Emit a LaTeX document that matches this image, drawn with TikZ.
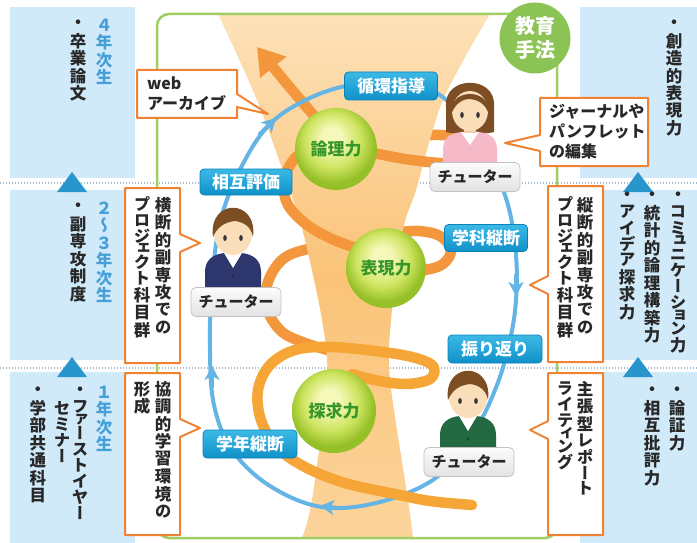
\documentclass[tikz,border=0pt]{standalone}
\usepackage{fontspec}
\usetikzlibrary{arrows.meta}

\newfontfamily\jp{Noto Sans CJK JP}
\newfontfamily\jpv{Noto Sans CJK JP}[RawFeature=+vert]

% vertical (tate) setting: one upright glyph per slot, kana set a little tighter
\ExplSyntaxOn
\dim_new:N \l_tate_pitch_dim
\NewDocumentCommand \tate { m }
  {
    \vbox:n
      {
        \offinterlineskip
        \tl_map_inline:nn {#1}
          {
            \tl_if_in:nnTF { ァィゥェォャュョッ } {##1}
              { \dim_set:Nn \l_tate_pitch_dim { 0.62em } }
              {
                \int_compare:nTF { "30A0 < `##1 < "3100 }
                  { \dim_set:Nn \l_tate_pitch_dim { 0.97em } }
                  { \dim_set:Nn \l_tate_pitch_dim { 1.06em } }
              }
            \hbox_to_wd:nn { 1em }
              { \hss \vbox_to_ht:nn { \l_tate_pitch_dim } { \vss \hbox:n {##1} \vss } \hss }
          }
      }
  }
\ExplSyntaxOff

\definecolor{panelblue}{RGB}{208,234,250}
\definecolor{yeartext}{RGB}{70,160,215}
\definecolor{tri}{RGB}{40,150,205}
\definecolor{dotline}{RGB}{165,185,205}
\definecolor{framegreen}{RGB}{160,205,100}
\definecolor{methodgreen}{RGB}{140,195,85}
\definecolor{loopblue}{RGB}{100,180,230}
\definecolor{boxtop}{RGB}{60,185,230}
\definecolor{boxbot}{RGB}{15,145,200}
\definecolor{boxline}{RGB}{10,130,185}
\definecolor{spiral}{RGB}{243,150,60}
\definecolor{spirallow}{RGB}{246,165,55}
\definecolor{calloutline}{RGB}{240,130,50}
\definecolor{funnelA}{RGB}{253,226,185}
\definecolor{funnelB}{RGB}{250,195,120}
\definecolor{funnelC}{RGB}{252,212,155}
\definecolor{ballA}{RGB}{245,248,185}
\definecolor{ballB}{RGB}{205,228,95}
\definecolor{ballC}{RGB}{150,192,40}
\definecolor{balltext}{RGB}{55,150,40}
\definecolor{labtop}{RGB}{252,252,252}
\definecolor{labbot}{RGB}{226,226,226}
\definecolor{labline}{RGB}{195,195,195}
\definecolor{skin}{RGB}{250,222,185}
\definecolor{hair}{RGB}{125,78,35}
\definecolor{pinkbody}{RGB}{245,185,200}
\definecolor{navy}{RGB}{45,55,110}
\definecolor{suitgreen}{RGB}{35,105,65}
\definecolor{inktext}{RGB}{40,40,40}

\pgfdeclareradialshading{greenball}{\pgfpoint{-3bp}{8bp}}{%
  color(0bp)=(ballA); color(6bp)=(ballA); color(17bp)=(ballB);
  color(25bp)=(ballC); color(50bp)=(ballC)}

\tikzset{
  yearpanel/.style={fill=panelblue},
  steptri/.style={fill=tri},
  sepline/.style={draw=dotline, line width=1.3pt, dash pattern=on 1.3pt off 1.7pt},
  vcol/.style={anchor=north, inner sep=0pt, text=inktext,
    font=\jpv\bfseries\fontsize{16.5}{16.5}\selectfont},
  vyear/.style={vcol, text=yeartext},
  callbox/.style={draw=calloutline, line width=2pt, fill=white, line join=round},
  calltext/.style={inner sep=0pt, align=left, text=inktext,
    font=\jp\bfseries\fontsize{16}{20}\selectfont},
  methodbox/.style={rounded corners=4pt, top color=boxtop, bottom color=boxbot,
    draw=boxline, line width=0.8pt, text=white, minimum height=28pt,
    font=\jp\bfseries\fontsize{17}{17}\selectfont},
  tutorlab/.style={rounded corners=5pt, top color=labtop, bottom color=labbot,
    draw=labline, line width=0.8pt, text=inktext, minimum width=90pt,
    minimum height=29pt, font=\jp\bfseries\fontsize{15}{15}\selectfont},
  ability/.style={circle, shade, shading=greenball, text=balltext,
    font=\jp\bfseries\fontsize{17}{17}\selectfont},
  blueloop/.style={draw=loopblue, line width=4pt},
  bluehead/.style={draw=loopblue, line width=4pt,
    -{Stealth[length=14pt,width=15pt,inset=4pt]}},
  spiralline/.style={draw=spiral, line width=10.5pt, line cap=round, line join=round},
  pics/maletutor/.style={code={
    \fill[#1] (-28,58) -- (-28,40) .. controls (-28,28) and (-20,22) .. (-8,21)
      -- (8,21) .. controls (20,22) and (28,28) .. (28,40) -- (28,58) -- cycle;
    \fill[white] (-9,21) -- (9,21) -- (0,36) -- cycle;
    \fill[#1!70!black] (0,44) circle (1.6);
    \fill[skin!85!brown] (-6,13) rectangle (6,22);
    \fill[skin] (0,2) ellipse [x radius=19, y radius=21];
    \fill[hair] (-20,5) .. controls (-25,-34) and (25,-34) .. (20,5)
      .. controls (18,-6) and (10,-10) .. (2,-11)
      .. controls (-8,-10) and (-16,-5) .. (-20,5) -- cycle;
    \fill[black!80] (-8,6) ellipse [x radius=1.8, y radius=3];
    \fill[black!80] (8,6) ellipse [x radius=1.8, y radius=3];
  }},
  pics/femaletutor/.style={code={
    \fill[hair] (-24,24) -- (-24,-2) .. controls (-26,-33) and (26,-33) .. (24,-2)
      -- (24,24) .. controls (12,27) and (-12,27) .. (-24,24) -- cycle;
    \fill[pinkbody] (-27,58) -- (-27,42) .. controls (-27,30) and (-20,25) .. (-8,24)
      -- (8,24) .. controls (20,25) and (27,30) .. (27,42) -- (27,58) -- cycle;
    \fill[white] (-9,24) -- (9,24) -- (0,37) -- cycle;
    \fill[skin!85!brown] (-6,14) rectangle (6,25);
    \fill[skin] (0,3) ellipse [x radius=18, y radius=20];
    \fill[hair] (-19,7) .. controls (-23,-21) and (23,-21) .. (19,7)
      .. controls (16,-4) and (8,-9) .. (-2,-9)
      .. controls (-10,-8) and (-16,-2) .. (-19,7) -- cycle;
    \fill[black!80] (-8,7) ellipse [x radius=1.8, y radius=3];
    \fill[black!80] (8,7) ellipse [x radius=1.8, y radius=3];
  }},
}

\begin{document}
\begin{tikzpicture}[x=1pt,y=-1pt]
\useasboundingbox (0,0) rectangle (697,543);
\fill[white] (0,0) rectangle (697,543);

% year columns
\fill[yearpanel] (10,7) rectangle (135,178);
\fill[yearpanel] (10,190) rectangle (135,360);
\fill[yearpanel] (10,372) rectangle (135,543);
\fill[yearpanel] (580,7) rectangle (697,178);
\fill[yearpanel] (580,190) rectangle (697,360);
\fill[yearpanel] (580,372) rectangle (697,543);

\draw[sepline] (0,183) -- (697,183);
\draw[sepline] (0,368) -- (697,368);

\fill[steptri] (72,172) -- (87,192) -- (57,192) -- cycle;
\fill[steptri] (72,357) -- (87,377) -- (57,377) -- cycle;
\fill[steptri] (638,172) -- (653,192) -- (623,192) -- cycle;
\fill[steptri] (638,357) -- (653,377) -- (623,377) -- cycle;

% spiral parts that pass behind the funnel
\begin{scope}[spiralline]
\draw plot[smooth, tension=0.6] coordinates {(405,136) (440,135) (463,138) (477,150) (463,161) (445,163)};
\draw plot[smooth, tension=0.6] coordinates {(392,233) (418,231) (440,236) (451,250) (443,264) (425,270) (405,271)};
\draw plot[smooth, tension=0.6] coordinates {(335,246) (308,249) (283,259) (268,282) (267,308) (281,331) (305,343) (335,352)};
\end{scope}

% funnel
\path[top color=funnelA, bottom color=funnelC, middle color=funnelB]
  plot[smooth] coordinates {(218,14) (257,100) (293,200) (305,240) (322,320) (327,380) (312,500) (302,538)}
  -- plot[smooth] coordinates {(413,538) (408,500) (390,380) (391,320) (403,230) (416,190) (443,100) (490,14)}
  -- cycle;

% frame of the teaching methods
\draw[framegreen, line width=2.5pt, rounded corners=12pt] (157,14) rectangle (557,538);

% arrow head of the spiral
\draw[spiralline, line cap=butt, -{Triangle[length=26pt,width=32pt]}]
  (326,130) .. controls (305,105) and (290,88) .. (257,47);

% learning cycle
\draw[blueloop] plot[smooth cycle, tension=0.6] coordinates {
  (437,477) (380,502) (322,507) (270,486) (232,450) (214,405) (210,350)
  (212,280) (222,215) (245,160) (272,122) (310,98) (350,85) (395,81)
  (435,92) (465,120) (490,160) (508,205) (516,255) (516,300) (510,340)
  (497,385) (475,430)};
\draw[bluehead] (338,508) -- (320,506);
\draw[bluehead] (212,388) -- (212,366);
\draw[bluehead] (259,135) -- (276,118);
\draw[bluehead] (516,274) -- (516,296);

% spiral parts in front of the funnel
\draw[spiralline] plot[smooth, tension=0.6] coordinates {
  (470,163) (440,163) (405,159) (372,153) (340,150) (305,152) (290,165)
  (284,185) (288,205) (306,224) (332,239) (362,250)};
\draw[spiralline, draw=spirallow] plot[smooth, tension=0.6] coordinates {
  (472,505) (430,501) (395,494) (345,483) (305,467) (277,447) (261,420)
  (258,390) (270,365) (295,350) (330,347) (375,351) (412,357) (433,366)
  (430,379) (405,384) (375,380) (352,374)};

% abilities
\node[ability, minimum size=82pt] (logic) at (336,149) {論理力};
\node[ability, minimum size=80pt] (expression) at (386,268) {表現力};
\node[ability, minimum size=84pt] (inquiry) at (334,411) {探求力};

% teaching methods
\node[methodbox, minimum width=93pt] (junkan) at (391,86) {循環指導};
\node[methodbox, minimum width=92pt, minimum height=26pt] (sogo) at (246,182) {相互評価};
\node[methodbox, minimum width=83pt, minimum height=27pt] (gakka) at (486,238) {学科縦断};
\node[methodbox, minimum width=94pt] (furikaeri) at (495,349) {振り返り};
\node[methodbox, minimum width=94pt] (gakunen) at (250,444) {学年縦断};

\node[circle, fill=methodgreen, minimum size=71pt, inner sep=0pt, text=white, align=center,
  font=\jp\bfseries\fontsize{20}{24}\selectfont] (method) at (535,38) {教育\\手法};

% tutors
\pic (tutorA) at (470,108) {femaletutor};
\pic (tutorB) at (233,232) {maletutor=navy};
\pic (tutorC) at (468,395) {maletutor=suitgreen};
\node[tutorlab] (labA) at (475,177) {チューター};
\node[tutorlab] (labB) at (236,302) {チューター};
\node[tutorlab] (labC) at (469,462) {チューター};

% callouts
\draw[callbox] (137,70) -- (237,70) -- (237,94) -- (268,114) -- (237,107) -- (237,118) -- (137,118) -- cycle;
\node[calltext, anchor=north west] (web) at (147,77) {web\\アーカイブ};

\draw[callbox] (540,98) -- (648,98) -- (648,166) -- (540,166) -- (540,151) -- (505,143) -- (540,135) -- cycle;
\node[calltext, anchor=north west] (journal) at (549,104) {ジャーナルや\\パンフレット\\の編集};

\draw[callbox] (125,188) -- (180,188) -- (180,234) -- (200,243) -- (180,252) -- (180,363) -- (125,363) -- cycle;
\node[vcol] (crossA) at (163,196) {\tate{横断的副専攻での}};
\node[vcol] (crossB) at (142,196) {\tate{プロジェクト科目群}};

\draw[callbox] (125,373) -- (180,373) -- (180,419) -- (200,428) -- (180,437) -- (180,535) -- (125,535) -- cycle;
\node[vcol] (coopA) at (163,380) {\tate{協調的学習環境の}};
\node[vcol] (coopB) at (142,380) {\tate{形成}};

\draw[callbox] (548,186) -- (603,186) -- (603,362) -- (548,362) -- (548,294) -- (530,285) -- (548,276) -- cycle;
\node[vcol] (longA) at (585,196) {\tate{縦断的副専攻での}};
\node[vcol] (longB) at (565,196) {\tate{プロジェクト科目群}};

\draw[callbox] (548,373) -- (603,373) -- (603,535) -- (548,535) -- (548,439) -- (530,430) -- (548,421) -- cycle;
\node[vcol] (reportA) at (585,380) {\tate{主張型レポート}};
\node[vcol] (reportB) at (565,380) {\tate{ライティング}};

% year labels and courses
\node[vyear] (year4) at (104,16) {\tate{４年次生}};
\node[vcol] (thesis) at (78,16) {\tate{・卒業論文}};
\node[vyear] (year23) at (104,199) {\tate{２～３年次生}};
\node[vcol] (minor) at (78,199) {\tate{・副専攻制度}};
\node[vyear] (year1) at (104,383) {\tate{１年次生}};
\node[vcol] (seminarA) at (80,383) {\tate{・ファーストイヤー}};
\node[vcol] (seminarB) at (62,400) {\tate{セミナー}};
\node[vcol] (common) at (38,383) {\tate{・学部共通科目}};

% skills
\node[vcol] (skillA) at (674,16) {\tate{・創造的表現力}};
\node[vcol] (skillB) at (678,188) {\tate{・コミュニケーション力}};
\node[vcol] (skillC) at (652,188) {\tate{・統計的論理構築力}};
\node[vcol] (skillD) at (627,188) {\tate{・アイデア探求力}};
\node[vcol] (skillE) at (677,383) {\tate{・論証力}};
\node[vcol] (skillF) at (652,383) {\tate{・相互批評力}};
\end{tikzpicture}
\end{document}
